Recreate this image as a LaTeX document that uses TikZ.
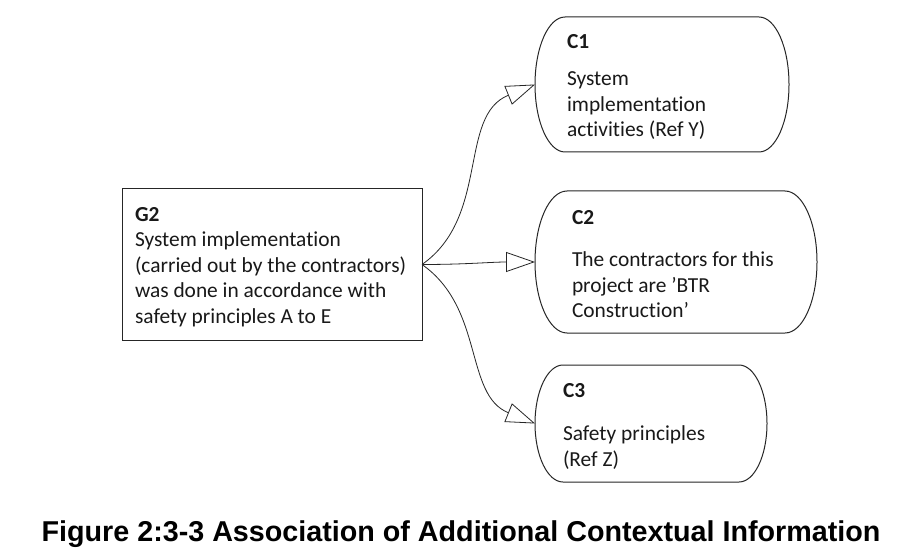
\documentclass[tikz,border=0pt]{standalone}
\usepackage{fontspec}
\setmainfont[Ligatures=NoCommon]{Carlito}
\newfontfamily\capfont{Liberation Sans}
\usetikzlibrary{arrows.meta}
\newcommand\ctxshape[3]{%
  \draw[outline] ([xshift=#2]#1.north west) -- ([xshift=-#2]#1.north east)
    arc[start angle=90,end angle=-90,x radius=#2,y radius=#3]
    -- ([xshift=#2]#1.south west)
    arc[start angle=270,end angle=90,x radius=#2,y radius=#3] -- cycle;}
\newcommand\sq{{\char"0027}}
\begin{document}
\begin{tikzpicture}[x=1pt,y=1pt,
  outline/.style={draw=black!85, line width=1pt},
  holder/.style={inner sep=0pt, outer sep=0pt, draw=none},
  goalbox/.style={holder, outline, rectangle},
  txt/.style={inner sep=0pt, outer sep=0pt, align=left, anchor=north west,
    text=black!90, font=\fontsize{21.4}{25.5}\selectfont},
  conn/.style={draw=black!85, line width=0.8pt,
    -{Triangle[open,length=29pt,width=20pt,line width=0.8pt]}}]
\useasboundingbox (0,0) rectangle (915,-556);
\fill[white] (0,0) rectangle (915,-556);

\node[goalbox, minimum width=300pt, minimum height=151pt] (G2) at (272,-264.5) {};
\node[txt] (G2t) at (135,-207) {\textbf{G2}\\ System implementation\\ (carried out by the contractors)\\ was done in accordance with\\ safety principles A to E};

\node[holder, minimum width=254pt, minimum height=135pt] (C1) at (662,-84.5) {};
\ctxshape{C1}{30pt}{67.5pt}
\node[txt] (C1t) at (567,-34) {\textbf{C1}\\[12pt] System\\ implementation\\ activities (Ref Y)};

\node[holder, minimum width=282pt, minimum height=142pt] (C2) at (676,-262) {};
\ctxshape{C2}{32pt}{71pt}
\node[txt] (C2t) at (572,-210) {\textbf{C2}\\[17pt] The contractors for this\\ project are \sq BTR\\ Construction\sq};

\node[holder, minimum width=232pt, minimum height=117pt] (C3) at (651,-423.5) {};
\ctxshape{C3}{28pt}{58.5pt}
\node[txt] (C3t) at (563,-383) {\textbf{C3}\\[18pt] Safety principles\\ (Ref Z)};

\draw[conn] (G2.east) to[out=35,in=202] (C1.west);
\draw[conn] (G2.east) to[out=0,in=180] (C2.west);
\draw[conn] (G2.east) to[out=-35,in=158] (C3.west);

\node[anchor=base, inner sep=0pt, font=\capfont\bfseries\fontsize{28.7}{32}\selectfont] (cap) at (461,-541) {Figure 2:3-3 Association of Additional Contextual Information};
\end{tikzpicture}
\end{document}
